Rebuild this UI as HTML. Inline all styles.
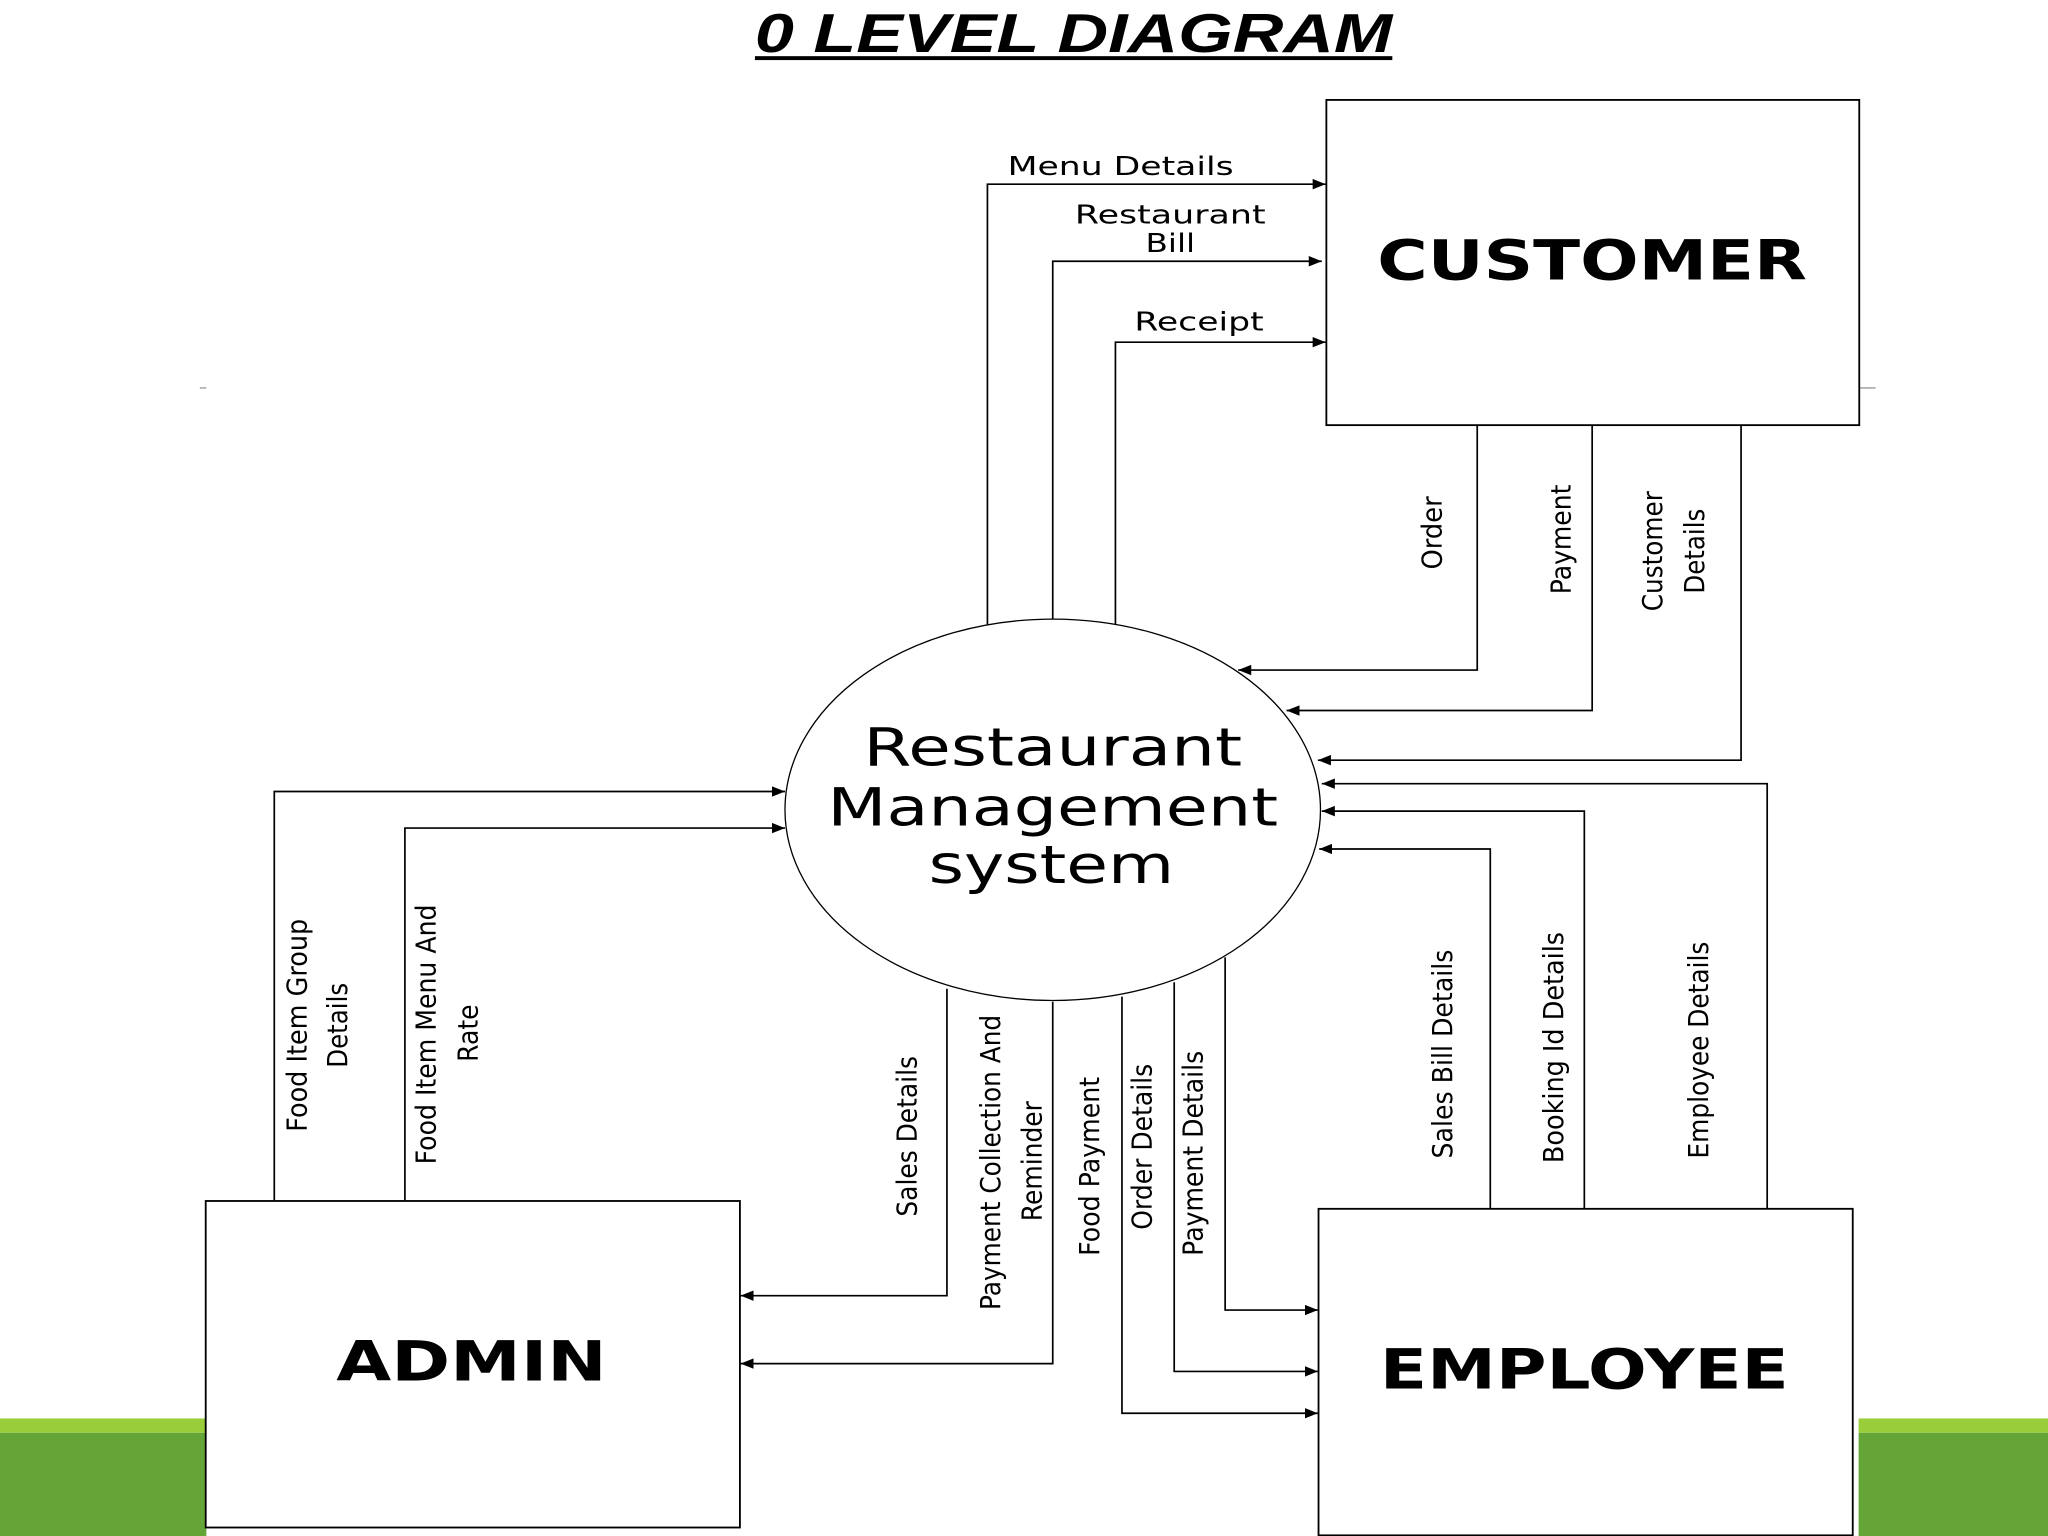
<!DOCTYPE html>
<html><head><meta charset="utf-8"><style>
html,body{margin:0;padding:0;background:#fff;width:2048px;height:1536px;overflow:hidden}
svg{display:block}
text{font-family:"DejaVu Sans","Liberation Sans",sans-serif;fill:#000}
</style></head><body>
<svg width="2048" height="1536" viewBox="0 0 1568 1176" preserveAspectRatio="none" xmlns="http://www.w3.org/2000/svg">
<defs>
<marker id="a" viewBox="0 0 10 8" refX="10" refY="4" markerWidth="10" markerHeight="8" markerUnits="userSpaceOnUse" orient="auto">
<path d="M0,0 L10,4 L0,8 z" fill="#000"/></marker>
</defs>
<!-- green bands -->
<rect x="0" y="1086" width="158" height="11" fill="#9acd3a"/>
<rect x="0" y="1097" width="158" height="79" fill="#65a538"/>
<rect x="1423" y="1086" width="145" height="11" fill="#9acd3a"/>
<rect x="1423" y="1097" width="145" height="79" fill="#65a538"/>
<line x1="153" y1="297" x2="158" y2="297" stroke="#999" stroke-width="1"/>
<line x1="1424" y1="297" x2="1436" y2="297" stroke="#999" stroke-width="1"/>

<!-- title -->
<text x="822" y="40" text-anchor="middle" font-family="Liberation Sans" font-weight="bold" font-style="italic" font-size="42" textLength="488" lengthAdjust="spacingAndGlyphs" style="font-family:'Liberation Sans',sans-serif">0 LEVEL DIAGRAM</text>
<rect x="578" y="43" width="488" height="3" fill="#000"/>

<!-- boxes -->
<g fill="#fff" stroke="#000" stroke-width="1.4">
<rect x="1015.5" y="76.5" width="408" height="249"/>
<rect x="157.5" y="919.5" width="409" height="250"/>
<rect x="1009.5" y="925.5" width="409" height="250"/>
<ellipse cx="806" cy="620" rx="205" ry="146" stroke-width="1"/>
</g>
<text x="1219" y="214" text-anchor="middle" font-weight="bold" font-size="42" textLength="329" lengthAdjust="spacingAndGlyphs">CUSTOMER</text>
<text x="361" y="1057" text-anchor="middle" font-weight="bold" font-size="42" textLength="207" lengthAdjust="spacingAndGlyphs">ADMIN</text>
<text x="1213" y="1063" text-anchor="middle" font-weight="bold" font-size="42" textLength="313" lengthAdjust="spacingAndGlyphs">EMPLOYEE</text>
<text x="806" y="586" text-anchor="middle" font-size="40" textLength="290" lengthAdjust="spacingAndGlyphs">Restaurant</text>
<text x="806" y="632" text-anchor="middle" font-size="40" textLength="345" lengthAdjust="spacingAndGlyphs">Management</text>
<text x="805" y="676" text-anchor="middle" font-size="40" textLength="188" lengthAdjust="spacingAndGlyphs">system</text>

<!-- connectors -->
<g fill="none" stroke="#000" stroke-width="1.3" marker-end="url(#a)">
<polyline points="756,478 756,141 1015,141"/>
<polyline points="806,474 806,200 1012,200"/>
<polyline points="854,478 854,262 1015,262"/>
<polyline points="1131,326 1131,513 948,513"/>
<polyline points="1219,326 1219,544 985,544"/>
<polyline points="1333,326 1333,582 1009,582"/>
<polyline points="1353,925 1353,600 1012,600"/>
<polyline points="1213,925 1213,621 1012,621"/>
<polyline points="1141,925 1141,650 1010,650"/>
<polyline points="210,919 210,606 601,606"/>
<polyline points="310,919 310,634 601,634"/>
<polyline points="725,757 725,992 567,992"/>
<polyline points="806,767 806,1044 567,1044"/>
<polyline points="859,763 859,1082 1009,1082"/>
<polyline points="899,752 899,1050 1009,1050"/>
<polyline points="938,733 938,1003 1009,1003"/>
</g>

<!-- horizontal labels -->
<g font-size="20" text-anchor="middle">
<text x="858" y="134" textLength="173" lengthAdjust="spacingAndGlyphs">Menu Details</text>
<text x="896" y="171" textLength="146" lengthAdjust="spacingAndGlyphs">Restaurant</text>
<text x="896" y="193" textLength="38" lengthAdjust="spacingAndGlyphs">Bill</text>
<text x="918" y="253" textLength="99" lengthAdjust="spacingAndGlyphs">Receipt</text>
</g>

<!-- rotated labels -->
<g font-size="21" text-anchor="middle" dominant-baseline="central">
<text transform="translate(1097,408) rotate(-90)" textLength="56" lengthAdjust="spacingAndGlyphs">Order</text>
<text transform="translate(1196,413) rotate(-90)" textLength="84" lengthAdjust="spacingAndGlyphs">Payment</text>
<text transform="translate(1266,422) rotate(-90)" textLength="92" lengthAdjust="spacingAndGlyphs">Customer</text>
<text transform="translate(1298,422) rotate(-90)" textLength="65" lengthAdjust="spacingAndGlyphs">Details</text>
<text transform="translate(1105,807) rotate(-90)" textLength="160" lengthAdjust="spacingAndGlyphs">Sales Bill Details</text>
<text transform="translate(1190,802) rotate(-90)" textLength="177" lengthAdjust="spacingAndGlyphs">Booking Id Details</text>
<text transform="translate(1301,804) rotate(-90)" textLength="166" lengthAdjust="spacingAndGlyphs">Employee Details</text>
<text transform="translate(228,785) rotate(-90)" textLength="163" lengthAdjust="spacingAndGlyphs">Food Item Group</text>
<text transform="translate(259,785) rotate(-90)" textLength="65" lengthAdjust="spacingAndGlyphs">Details</text>
<text transform="translate(327,792) rotate(-90)" textLength="199" lengthAdjust="spacingAndGlyphs">Food Item Menu And</text>
<text transform="translate(359,791) rotate(-90)" textLength="44" lengthAdjust="spacingAndGlyphs">Rate</text>
<text transform="translate(695,870) rotate(-90)" textLength="123" lengthAdjust="spacingAndGlyphs">Sales Details</text>
<text transform="translate(759,890) rotate(-90)" textLength="226" lengthAdjust="spacingAndGlyphs">Payment Collection And</text>
<text transform="translate(791,889) rotate(-90)" textLength="92" lengthAdjust="spacingAndGlyphs">Reminder</text>
<text transform="translate(835,893) rotate(-90)" textLength="137" lengthAdjust="spacingAndGlyphs">Food Payment</text>
<text transform="translate(875,878) rotate(-90)" textLength="127" lengthAdjust="spacingAndGlyphs">Order Details</text>
<text transform="translate(914,883) rotate(-90)" textLength="157" lengthAdjust="spacingAndGlyphs">Payment Details</text>
</g>
</svg>
</body></html>
